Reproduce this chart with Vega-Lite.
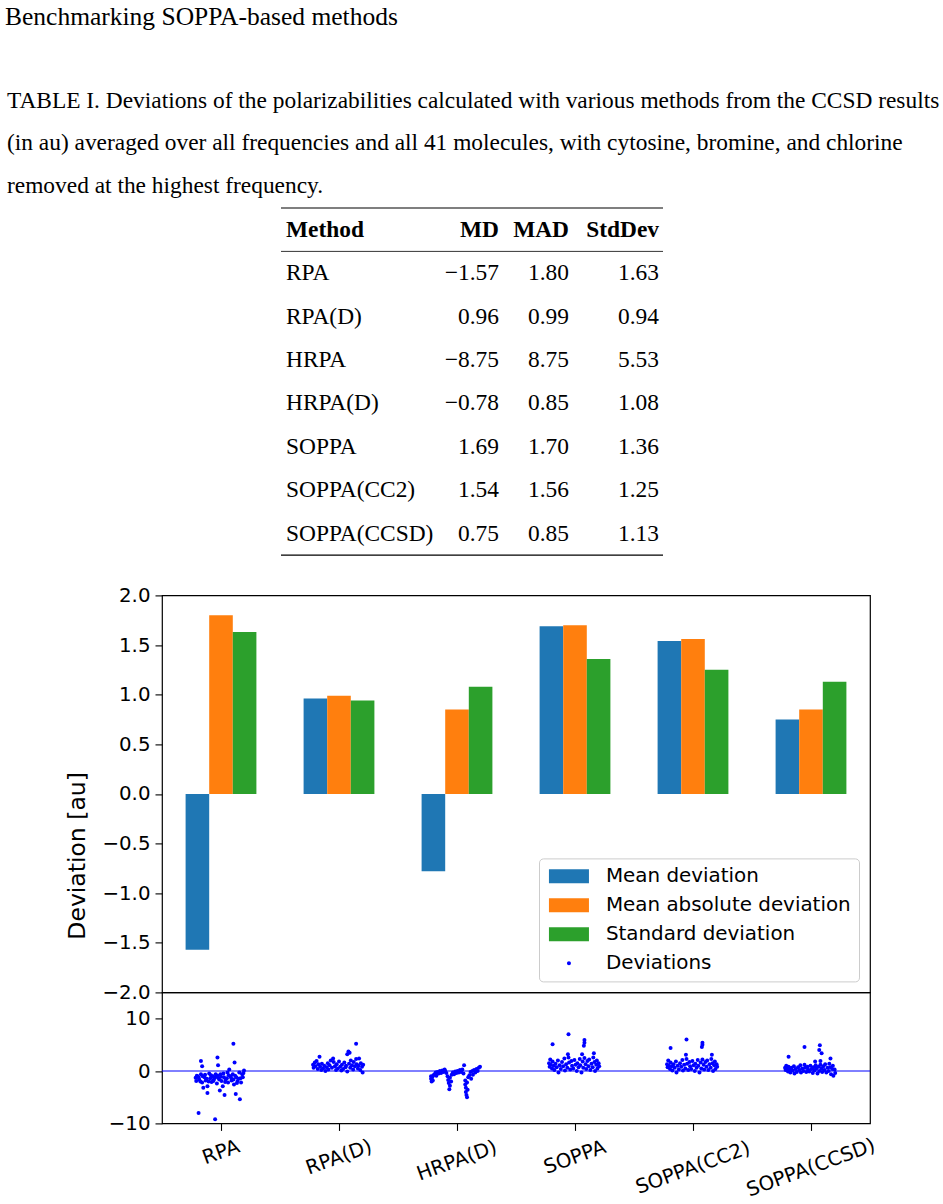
{
  "$schema": "https://vega.github.io/schema/vega-lite/v6.json",
  "padding": {"top": 4, "left": 0, "right": 0, "bottom": 0},
  "background": "white",
  "config": {
    "view": {"stroke": null},
    "font": "DejaVu Sans",
    "axis": {"labelFont": "DejaVu Sans", "labelFontSize": 19.8, "labelColor": "black", "tickColor": "black", "tickWidth": 1.1, "tickSize": 7, "labelPadding": 5, "titleFont": "DejaVu Sans", "titleFontWeight": "normal", "titleColor": "black", "grid": false, "domain": false}
  },
  "title": {"text": "Benchmarking SOPPA-based methods", "anchor": "start", "frame": "group", "font": "Liberation Serif", "fontSize": 25.5, "fontWeight": "normal", "color": "black", "offset": 50, "dx": 5},
  "datasets": {
    "caption": [
      {"row": "c1", "text": "TABLE I. Deviations of the polarizabilities calculated with various methods from the CCSD results"},
      {"row": "c2", "text": "(in au) averaged over all frequencies and all 41 molecules, with cytosine, bromine, and chlorine"},
      {"row": "c3", "text": "removed at the highest frequency."}
    ],
    "header": [{"row": "th", "Method": "Method", "MD": "MD", "MAD": "MAD", "StdDev": "StdDev"}],
    "table": [
      {"Method": "RPA", "MD": -1.57, "MAD": 1.80, "StdDev": 1.63},
      {"Method": "RPA(D)", "MD": 0.96, "MAD": 0.99, "StdDev": 0.94},
      {"Method": "HRPA", "MD": -8.75, "MAD": 8.75, "StdDev": 5.53},
      {"Method": "HRPA(D)", "MD": -0.78, "MAD": 0.85, "StdDev": 1.08},
      {"Method": "SOPPA", "MD": 1.69, "MAD": 1.70, "StdDev": 1.36},
      {"Method": "SOPPA(CC2)", "MD": 1.54, "MAD": 1.56, "StdDev": 1.25},
      {"Method": "SOPPA(CCSD)", "MD": 0.75, "MAD": 0.85, "StdDev": 1.13}
    ],
    "bars": [
      {"m": "RPA", "s": "Mean deviation", "v": -1.57}, {"m": "RPA", "s": "Mean absolute deviation", "v": 1.80}, {"m": "RPA", "s": "Standard deviation", "v": 1.63},
      {"m": "RPA(D)", "s": "Mean deviation", "v": 0.96}, {"m": "RPA(D)", "s": "Mean absolute deviation", "v": 0.99}, {"m": "RPA(D)", "s": "Standard deviation", "v": 0.94},
      {"m": "HRPA(D)", "s": "Mean deviation", "v": -0.78}, {"m": "HRPA(D)", "s": "Mean absolute deviation", "v": 0.85}, {"m": "HRPA(D)", "s": "Standard deviation", "v": 1.08},
      {"m": "SOPPA", "s": "Mean deviation", "v": 1.69}, {"m": "SOPPA", "s": "Mean absolute deviation", "v": 1.70}, {"m": "SOPPA", "s": "Standard deviation", "v": 1.36},
      {"m": "SOPPA(CC2)", "s": "Mean deviation", "v": 1.54}, {"m": "SOPPA(CC2)", "s": "Mean absolute deviation", "v": 1.56}, {"m": "SOPPA(CC2)", "s": "Standard deviation", "v": 1.25},
      {"m": "SOPPA(CCSD)", "s": "Mean deviation", "v": 0.75}, {"m": "SOPPA(CCSD)", "s": "Mean absolute deviation", "v": 0.85}, {"m": "SOPPA(CCSD)", "s": "Standard deviation", "v": 1.13}
    ],
    "pts": [
      {"m":"RPA","j":-0.43,"v":-1.3},{"m":"RPA","j":-0.42,"v":-1.9},{"m":"RPA","j":-0.40,"v":-1.0},{"m":"RPA","j":-0.37,"v":-1.6},{"m":"RPA","j":-0.34,"v":-0.6},{"m":"RPA","j":-0.32,"v":-2.2},{"m":"RPA","j":-0.30,"v":-3.2},{"m":"RPA","j":-0.28,"v":-1.2},{"m":"RPA","j":-0.26,"v":-1.8},{"m":"RPA","j":-0.23,"v":-4.2},{"m":"RPA","j":-0.23,"v":-2.9},{"m":"RPA","j":-0.20,"v":-0.5},{"m":"RPA","j":-0.18,"v":-1.4},{"m":"RPA","j":-0.16,"v":-2.1},{"m":"RPA","j":-0.14,"v":-1.0},{"m":"RPA","j":-0.12,"v":-1.6},{"m":"RPA","j":-0.09,"v":-0.6},{"m":"RPA","j":-0.07,"v":-2.4},{"m":"RPA","j":-0.05,"v":-1.3},{"m":"RPA","j":-0.02,"v":-3.7},{"m":"RPA","j":-0.01,"v":-0.6},{"m":"RPA","j":0.01,"v":-1.9},{"m":"RPA","j":0.03,"v":-2.9},{"m":"RPA","j":0.05,"v":-1.2},{"m":"RPA","j":0.06,"v":-4.6},{"m":"RPA","j":0.08,"v":-1.6},{"m":"RPA","j":0.11,"v":-0.3},{"m":"RPA","j":0.12,"v":-2.2},{"m":"RPA","j":0.14,"v":0.3},{"m":"RPA","j":0.16,"v":-1.0},{"m":"RPA","j":0.18,"v":-1.8},{"m":"RPA","j":0.20,"v":-0.6},{"m":"RPA","j":0.22,"v":-2.6},{"m":"RPA","j":0.25,"v":-4.4},{"m":"RPA","j":0.26,"v":-1.2},{"m":"RPA","j":0.28,"v":-1.9},{"m":"RPA","j":0.31,"v":-0.3},{"m":"RPA","j":0.32,"v":-5.4},{"m":"RPA","j":0.33,"v":-1.4},{"m":"RPA","j":0.36,"v":-0.6},{"m":"RPA","j":0.39,"v":0.1},
      {"m":"RPA","j":-0.41,"v":-0.9},{"m":"RPA","j":-0.38,"v":-1.2},{"m":"RPA","j":-0.35,"v":-2.0},{"m":"RPA","j":-0.31,"v":-1.0},{"m":"RPA","j":-0.27,"v":-0.7},{"m":"RPA","j":-0.24,"v":-1.5},{"m":"RPA","j":-0.21,"v":-2.0},{"m":"RPA","j":-0.17,"v":-0.8},{"m":"RPA","j":-0.13,"v":-1.9},{"m":"RPA","j":-0.10,"v":-1.2},{"m":"RPA","j":-0.06,"v":-0.9},{"m":"RPA","j":-0.03,"v":-1.6},{"m":"RPA","j":0.00,"v":-1.1},{"m":"RPA","j":0.04,"v":-0.5},{"m":"RPA","j":0.07,"v":-2.1},{"m":"RPA","j":0.10,"v":-1.4},{"m":"RPA","j":0.13,"v":-0.8},{"m":"RPA","j":0.17,"v":-1.3},{"m":"RPA","j":0.21,"v":-1.6},{"m":"RPA","j":0.24,"v":-0.9},{"m":"RPA","j":0.27,"v":-2.3},{"m":"RPA","j":0.30,"v":-1.5},{"m":"RPA","j":0.34,"v":-2.2},{"m":"RPA","j":0.37,"v":-1.2},{"m":"RPA","j":0.38,"v":-0.4},
      {"m":"RPA","j":0.21,"v":5.2},{"m":"RPA","j":-0.06,"v":2.6},{"m":"RPA","j":-0.34,"v":1.9},{"m":"RPA","j":-0.32,"v":0.9},{"m":"RPA","j":-0.05,"v":1.1},{"m":"RPA","j":0.23,"v":1.6},{"m":"RPA","j":-0.38,"v":-8.0},{"m":"RPA","j":-0.10,"v":-9.2},
      {"m":"RPA(D)","j":-0.44,"v":1.2},{"m":"RPA(D)","j":-0.43,"v":0.6},{"m":"RPA(D)","j":-0.41,"v":1.6},{"m":"RPA(D)","j":-0.40,"v":0.9},{"m":"RPA(D)","j":-0.38,"v":1.9},{"m":"RPA(D)","j":-0.36,"v":0.4},{"m":"RPA(D)","j":-0.35,"v":1.3},{"m":"RPA(D)","j":-0.33,"v":2.7},{"m":"RPA(D)","j":-0.32,"v":0.8},{"m":"RPA(D)","j":-0.30,"v":0.2},{"m":"RPA(D)","j":-0.29,"v":1.4},{"m":"RPA(D)","j":-0.27,"v":0.5},{"m":"RPA(D)","j":-0.25,"v":1.0},{"m":"RPA(D)","j":-0.23,"v":0.0},{"m":"RPA(D)","j":-0.21,"v":0.7},{"m":"RPA(D)","j":-0.19,"v":1.5},{"m":"RPA(D)","j":-0.18,"v":0.3},{"m":"RPA(D)","j":-0.16,"v":1.1},{"m":"RPA(D)","j":-0.14,"v":2.0},{"m":"RPA(D)","j":-0.12,"v":0.6},{"m":"RPA(D)","j":-0.10,"v":2.4},{"m":"RPA(D)","j":-0.09,"v":1.7},{"m":"RPA(D)","j":-0.07,"v":0.9},{"m":"RPA(D)","j":-0.05,"v":0.2},{"m":"RPA(D)","j":-0.04,"v":1.3},{"m":"RPA(D)","j":-0.02,"v":0.5},{"m":"RPA(D)","j":0.00,"v":1.8},{"m":"RPA(D)","j":0.02,"v":0.8},{"m":"RPA(D)","j":0.04,"v":0.1},{"m":"RPA(D)","j":0.05,"v":1.2},{"m":"RPA(D)","j":0.07,"v":0.4},{"m":"RPA(D)","j":0.09,"v":1.6},{"m":"RPA(D)","j":0.11,"v":0.7},{"m":"RPA(D)","j":0.12,"v":1.0},{"m":"RPA(D)","j":0.14,"v":-0.1},{"m":"RPA(D)","j":0.14,"v":3.2},{"m":"RPA(D)","j":0.16,"v":3.7},{"m":"RPA(D)","j":0.17,"v":1.4},{"m":"RPA(D)","j":0.18,"v":3.5},{"m":"RPA(D)","j":0.19,"v":0.6},{"m":"RPA(D)","j":0.20,"v":2.0},{"m":"RPA(D)","j":0.22,"v":1.1},{"m":"RPA(D)","j":0.24,"v":0.3},{"m":"RPA(D)","j":0.25,"v":1.7},{"m":"RPA(D)","j":0.27,"v":0.9},{"m":"RPA(D)","j":0.29,"v":2.3},{"m":"RPA(D)","j":0.30,"v":1.3},{"m":"RPA(D)","j":0.29,"v":5.2},{"m":"RPA(D)","j":0.32,"v":0.5},{"m":"RPA(D)","j":0.33,"v":1.0},{"m":"RPA(D)","j":0.34,"v":2.4},{"m":"RPA(D)","j":0.36,"v":0.2},{"m":"RPA(D)","j":0.37,"v":1.5},{"m":"RPA(D)","j":0.39,"v":0.8},{"m":"RPA(D)","j":0.40,"v":-0.3},{"m":"RPA(D)","j":0.41,"v":1.2},
      {"m":"HRPA(D)","j":-0.44,"v":-1.0},{"m":"HRPA(D)","j":-0.44,"v":-1.5},{"m":"HRPA(D)","j":-0.43,"v":-2.0},{"m":"HRPA(D)","j":-0.42,"v":-1.2},{"m":"HRPA(D)","j":-0.41,"v":-1.8},{"m":"HRPA(D)","j":-0.40,"v":-0.8},{"m":"HRPA(D)","j":-0.38,"v":-0.6},{"m":"HRPA(D)","j":-0.36,"v":-0.3},{"m":"HRPA(D)","j":-0.35,"v":-0.9},{"m":"HRPA(D)","j":-0.33,"v":-0.2},{"m":"HRPA(D)","j":-0.31,"v":-0.5},{"m":"HRPA(D)","j":-0.29,"v":0.0},{"m":"HRPA(D)","j":-0.27,"v":-0.4},{"m":"HRPA(D)","j":-0.25,"v":0.1},{"m":"HRPA(D)","j":-0.23,"v":-0.2},{"m":"HRPA(D)","j":-0.21,"v":0.3},{"m":"HRPA(D)","j":-0.20,"v":0.0},{"m":"HRPA(D)","j":-0.18,"v":-0.4},{"m":"HRPA(D)","j":-0.16,"v":-1.0},{"m":"HRPA(D)","j":-0.15,"v":-1.7},{"m":"HRPA(D)","j":-0.14,"v":-2.3},{"m":"HRPA(D)","j":-0.13,"v":-3.5},{"m":"HRPA(D)","j":-0.12,"v":-2.8},{"m":"HRPA(D)","j":-0.12,"v":-1.3},{"m":"HRPA(D)","j":-0.10,"v":-2.0},{"m":"HRPA(D)","j":-0.09,"v":-0.7},{"m":"HRPA(D)","j":-0.07,"v":-0.3},{"m":"HRPA(D)","j":-0.05,"v":-0.6},{"m":"HRPA(D)","j":-0.03,"v":-0.1},{"m":"HRPA(D)","j":-0.01,"v":-0.4},{"m":"HRPA(D)","j":0.01,"v":0.0},{"m":"HRPA(D)","j":0.03,"v":-0.3},{"m":"HRPA(D)","j":0.05,"v":0.2},{"m":"HRPA(D)","j":0.07,"v":-0.2},{"m":"HRPA(D)","j":0.09,"v":0.3},{"m":"HRPA(D)","j":0.11,"v":-0.5},{"m":"HRPA(D)","j":0.12,"v":1.1},{"m":"HRPA(D)","j":0.14,"v":-1.8},{"m":"HRPA(D)","j":0.14,"v":-2.6},{"m":"HRPA(D)","j":0.15,"v":-3.2},{"m":"HRPA(D)","j":0.15,"v":-4.0},{"m":"HRPA(D)","j":0.16,"v":-4.6},{"m":"HRPA(D)","j":0.17,"v":-5.0},{"m":"HRPA(D)","j":0.17,"v":-2.2},{"m":"HRPA(D)","j":0.18,"v":-3.6},{"m":"HRPA(D)","j":0.19,"v":-1.2},{"m":"HRPA(D)","j":0.21,"v":-0.8},{"m":"HRPA(D)","j":0.23,"v":-0.2},{"m":"HRPA(D)","j":0.24,"v":-1.5},{"m":"HRPA(D)","j":0.26,"v":0.0},{"m":"HRPA(D)","j":0.27,"v":-0.7},{"m":"HRPA(D)","j":0.29,"v":0.2},{"m":"HRPA(D)","j":0.31,"v":-0.3},{"m":"HRPA(D)","j":0.33,"v":0.4},{"m":"HRPA(D)","j":0.35,"v":0.0},{"m":"HRPA(D)","j":0.37,"v":0.6},{"m":"HRPA(D)","j":0.39,"v":0.8},
      {"m":"SOPPA","j":-0.44,"v":1.5},{"m":"SOPPA","j":-0.43,"v":0.8},{"m":"SOPPA","j":-0.42,"v":2.2},{"m":"SOPPA","j":-0.41,"v":1.2},{"m":"SOPPA","j":-0.39,"v":0.5},{"m":"SOPPA","j":-0.38,"v":1.8},{"m":"SOPPA","j":-0.36,"v":1.0},{"m":"SOPPA","j":-0.35,"v":0.2},{"m":"SOPPA","j":-0.33,"v":1.4},{"m":"SOPPA","j":-0.31,"v":0.7},{"m":"SOPPA","j":-0.29,"v":2.0},{"m":"SOPPA","j":-0.28,"v":-0.3},{"m":"SOPPA","j":-0.26,"v":1.1},{"m":"SOPPA","j":-0.24,"v":0.4},{"m":"SOPPA","j":-0.22,"v":1.7},{"m":"SOPPA","j":-0.20,"v":0.9},{"m":"SOPPA","j":-0.18,"v":2.4},{"m":"SOPPA","j":-0.17,"v":0.1},{"m":"SOPPA","j":-0.15,"v":1.3},{"m":"SOPPA","j":-0.13,"v":0.6},{"m":"SOPPA","j":-0.11,"v":2.6},{"m":"SOPPA","j":-0.10,"v":1.6},{"m":"SOPPA","j":-0.08,"v":0.3},{"m":"SOPPA","j":-0.06,"v":1.9},{"m":"SOPPA","j":-0.05,"v":1.0},{"m":"SOPPA","j":-0.03,"v":0.5},{"m":"SOPPA","j":-0.01,"v":2.1},{"m":"SOPPA","j":0.01,"v":1.2},{"m":"SOPPA","j":0.03,"v":0.0},{"m":"SOPPA","j":0.04,"v":1.5},{"m":"SOPPA","j":0.06,"v":0.7},{"m":"SOPPA","j":0.08,"v":2.3},{"m":"SOPPA","j":0.09,"v":1.1},{"m":"SOPPA","j":0.11,"v":-0.3},{"m":"SOPPA","j":0.13,"v":1.8},{"m":"SOPPA","j":0.14,"v":0.6},{"m":"SOPPA","j":0.16,"v":2.5},{"m":"SOPPA","j":0.18,"v":1.3},{"m":"SOPPA","j":0.19,"v":0.4},{"m":"SOPPA","j":0.21,"v":1.9},{"m":"SOPPA","j":0.23,"v":0.9},{"m":"SOPPA","j":0.24,"v":2.2},{"m":"SOPPA","j":0.26,"v":0.2},{"m":"SOPPA","j":0.28,"v":1.4},{"m":"SOPPA","j":0.30,"v":0.7},{"m":"SOPPA","j":0.31,"v":2.6},{"m":"SOPPA","j":0.33,"v":1.7},{"m":"SOPPA","j":0.34,"v":0.0},{"m":"SOPPA","j":0.36,"v":1.2},{"m":"SOPPA","j":0.37,"v":2.0},{"m":"SOPPA","j":0.38,"v":0.5},{"m":"SOPPA","j":0.40,"v":1.5},{"m":"SOPPA","j":0.41,"v":0.9},
      {"m":"SOPPA","j":-0.11,"v":7.0},{"m":"SOPPA","j":-0.38,"v":5.1},{"m":"SOPPA","j":0.16,"v":5.9},{"m":"SOPPA","j":0.16,"v":5.4},{"m":"SOPPA","j":0.15,"v":4.8},{"m":"SOPPA","j":-0.12,"v":3.2},{"m":"SOPPA","j":0.32,"v":3.4},{"m":"SOPPA","j":0.12,"v":3.2},
      {"m":"SOPPA(CC2)","j":-0.44,"v":1.3},{"m":"SOPPA(CC2)","j":-0.43,"v":0.7},{"m":"SOPPA(CC2)","j":-0.42,"v":2.0},{"m":"SOPPA(CC2)","j":-0.41,"v":1.0},{"m":"SOPPA(CC2)","j":-0.39,"v":0.4},{"m":"SOPPA(CC2)","j":-0.38,"v":1.6},{"m":"SOPPA(CC2)","j":-0.36,"v":0.9},{"m":"SOPPA(CC2)","j":-0.35,"v":0.1},{"m":"SOPPA(CC2)","j":-0.33,"v":1.3},{"m":"SOPPA(CC2)","j":-0.31,"v":0.6},{"m":"SOPPA(CC2)","j":-0.29,"v":1.8},{"m":"SOPPA(CC2)","j":-0.28,"v":-0.3},{"m":"SOPPA(CC2)","j":-0.26,"v":1.0},{"m":"SOPPA(CC2)","j":-0.24,"v":0.3},{"m":"SOPPA(CC2)","j":-0.22,"v":1.5},{"m":"SOPPA(CC2)","j":-0.20,"v":0.8},{"m":"SOPPA(CC2)","j":-0.18,"v":2.1},{"m":"SOPPA(CC2)","j":-0.17,"v":0.1},{"m":"SOPPA(CC2)","j":-0.15,"v":1.2},{"m":"SOPPA(CC2)","j":-0.13,"v":0.5},{"m":"SOPPA(CC2)","j":-0.11,"v":2.3},{"m":"SOPPA(CC2)","j":-0.10,"v":1.4},{"m":"SOPPA(CC2)","j":-0.08,"v":0.2},{"m":"SOPPA(CC2)","j":-0.06,"v":1.7},{"m":"SOPPA(CC2)","j":-0.05,"v":0.9},{"m":"SOPPA(CC2)","j":-0.03,"v":0.4},{"m":"SOPPA(CC2)","j":-0.01,"v":1.9},{"m":"SOPPA(CC2)","j":0.01,"v":1.1},{"m":"SOPPA(CC2)","j":0.03,"v":0.0},{"m":"SOPPA(CC2)","j":0.04,"v":1.4},{"m":"SOPPA(CC2)","j":0.06,"v":0.6},{"m":"SOPPA(CC2)","j":0.08,"v":2.1},{"m":"SOPPA(CC2)","j":0.09,"v":1.0},{"m":"SOPPA(CC2)","j":0.11,"v":-0.3},{"m":"SOPPA(CC2)","j":0.13,"v":1.6},{"m":"SOPPA(CC2)","j":0.14,"v":0.5},{"m":"SOPPA(CC2)","j":0.16,"v":2.2},{"m":"SOPPA(CC2)","j":0.18,"v":1.2},{"m":"SOPPA(CC2)","j":0.19,"v":0.3},{"m":"SOPPA(CC2)","j":0.21,"v":1.7},{"m":"SOPPA(CC2)","j":0.23,"v":0.8},{"m":"SOPPA(CC2)","j":0.24,"v":2.0},{"m":"SOPPA(CC2)","j":0.26,"v":0.2},{"m":"SOPPA(CC2)","j":0.28,"v":1.3},{"m":"SOPPA(CC2)","j":0.30,"v":0.6},{"m":"SOPPA(CC2)","j":0.31,"v":2.3},{"m":"SOPPA(CC2)","j":0.33,"v":1.5},{"m":"SOPPA(CC2)","j":0.34,"v":0.0},{"m":"SOPPA(CC2)","j":0.36,"v":1.1},{"m":"SOPPA(CC2)","j":0.37,"v":1.8},{"m":"SOPPA(CC2)","j":0.38,"v":0.4},{"m":"SOPPA(CC2)","j":0.40,"v":1.3},{"m":"SOPPA(CC2)","j":0.41,"v":0.8},
      {"m":"SOPPA(CC2)","j":-0.11,"v":6.0},{"m":"SOPPA(CC2)","j":-0.38,"v":4.4},{"m":"SOPPA(CC2)","j":0.16,"v":5.4},{"m":"SOPPA(CC2)","j":0.16,"v":5.0},{"m":"SOPPA(CC2)","j":0.15,"v":4.6},{"m":"SOPPA(CC2)","j":-0.12,"v":3.1},{"m":"SOPPA(CC2)","j":0.32,"v":3.1},
      {"m":"SOPPA(CCSD)","j":-0.44,"v":0.6},{"m":"SOPPA(CCSD)","j":-0.43,"v":0.2},{"m":"SOPPA(CCSD)","j":-0.42,"v":1.0},{"m":"SOPPA(CCSD)","j":-0.41,"v":0.4},{"m":"SOPPA(CCSD)","j":-0.39,"v":-0.1},{"m":"SOPPA(CCSD)","j":-0.38,"v":0.8},{"m":"SOPPA(CCSD)","j":-0.36,"v":0.3},{"m":"SOPPA(CCSD)","j":-0.35,"v":-0.3},{"m":"SOPPA(CCSD)","j":-0.33,"v":0.6},{"m":"SOPPA(CCSD)","j":-0.31,"v":0.1},{"m":"SOPPA(CCSD)","j":-0.29,"v":0.9},{"m":"SOPPA(CCSD)","j":-0.28,"v":-0.5},{"m":"SOPPA(CCSD)","j":-0.26,"v":0.4},{"m":"SOPPA(CCSD)","j":-0.24,"v":-0.2},{"m":"SOPPA(CCSD)","j":-0.22,"v":0.7},{"m":"SOPPA(CCSD)","j":-0.20,"v":0.2},{"m":"SOPPA(CCSD)","j":-0.18,"v":1.1},{"m":"SOPPA(CCSD)","j":-0.17,"v":-0.3},{"m":"SOPPA(CCSD)","j":-0.15,"v":0.5},{"m":"SOPPA(CCSD)","j":-0.13,"v":0.0},{"m":"SOPPA(CCSD)","j":-0.11,"v":1.2},{"m":"SOPPA(CCSD)","j":-0.10,"v":0.6},{"m":"SOPPA(CCSD)","j":-0.08,"v":-0.2},{"m":"SOPPA(CCSD)","j":-0.06,"v":0.8},{"m":"SOPPA(CCSD)","j":-0.05,"v":0.3},{"m":"SOPPA(CCSD)","j":-0.03,"v":-0.1},{"m":"SOPPA(CCSD)","j":-0.01,"v":1.0},{"m":"SOPPA(CCSD)","j":0.01,"v":0.4},{"m":"SOPPA(CCSD)","j":0.03,"v":-0.4},{"m":"SOPPA(CCSD)","j":0.04,"v":0.7},{"m":"SOPPA(CCSD)","j":0.06,"v":0.1},{"m":"SOPPA(CCSD)","j":0.08,"v":1.1},{"m":"SOPPA(CCSD)","j":0.09,"v":0.5},{"m":"SOPPA(CCSD)","j":0.11,"v":-0.5},{"m":"SOPPA(CCSD)","j":0.13,"v":0.8},{"m":"SOPPA(CCSD)","j":0.14,"v":0.0},{"m":"SOPPA(CCSD)","j":0.16,"v":1.2},{"m":"SOPPA(CCSD)","j":0.18,"v":0.5},{"m":"SOPPA(CCSD)","j":0.19,"v":-0.2},{"m":"SOPPA(CCSD)","j":0.21,"v":0.9},{"m":"SOPPA(CCSD)","j":0.23,"v":0.2},{"m":"SOPPA(CCSD)","j":0.24,"v":1.3},{"m":"SOPPA(CCSD)","j":0.26,"v":-0.3},{"m":"SOPPA(CCSD)","j":0.28,"v":0.6},{"m":"SOPPA(CCSD)","j":0.30,"v":0.0},{"m":"SOPPA(CCSD)","j":0.31,"v":1.4},{"m":"SOPPA(CCSD)","j":0.33,"v":0.7},{"m":"SOPPA(CCSD)","j":0.34,"v":-0.6},{"m":"SOPPA(CCSD)","j":0.36,"v":0.4},{"m":"SOPPA(CCSD)","j":0.37,"v":1.0},{"m":"SOPPA(CCSD)","j":0.38,"v":-0.9},{"m":"SOPPA(CCSD)","j":0.40,"v":0.3},{"m":"SOPPA(CCSD)","j":0.41,"v":-0.4},
      {"m":"SOPPA(CCSD)","j":-0.11,"v":4.6},{"m":"SOPPA(CCSD)","j":0.15,"v":4.9},{"m":"SOPPA(CCSD)","j":0.14,"v":4.0},{"m":"SOPPA(CCSD)","j":0.18,"v":3.4},{"m":"SOPPA(CCSD)","j":-0.38,"v":2.7},{"m":"SOPPA(CCSD)","j":0.33,"v":2.4},{"m":"SOPPA(CCSD)","j":0.07,"v":1.8},{"m":"SOPPA(CCSD)","j":0.16,"v":1.9}
    ]
  },
  "spacing": 28.4,
  "resolve": {"scale": {"color": "independent", "shape": "independent"}, "legend": {"color": "independent", "shape": "independent"}},
  "vconcat": [
    {
      "spacing": 0,
      "vconcat": [
        {
          "width": 943, "height": 126.6,
          "data": {"name": "caption"},
          "mark": {"type": "text", "align": "left", "baseline": "middle", "dx": 7, "font": "Liberation Serif", "fontSize": 23.4, "color": "black"},
          "encoding": {
            "x": {"datum": 0, "type": "quantitative", "scale": {"domain": [0, 1]}, "axis": null},
            "y": {"field": "row", "type": "nominal", "scale": {"type": "band", "domain": ["c1", "c2", "c3"], "paddingInner": 0, "paddingOuter": 0}, "axis": null},
            "text": {"field": "text"}
          }
        },
        {
          "spacing": 0,
          "bounds": "flush",
          "hconcat": [
            {"width": 281, "height": 10, "data": {"values": []}, "mark": {"type": "point", "opacity": 0}},
            {
              "width": 159, "height": 347.2,
              "layer": [
                {"data": {"name": "header"}, "mark": {"type": "text", "align": "left", "baseline": "middle", "dx": 5, "font": "Liberation Serif", "fontSize": 23.4, "fontWeight": "bold", "color": "black"},
                 "encoding": {"x": {"datum": 0, "type": "quantitative", "scale": {"domain": [0, 1]}, "axis": null}, "y": {"field": "row", "type": "nominal", "scale": {"type": "band", "domain": ["th", "RPA", "RPA(D)", "HRPA", "HRPA(D)", "SOPPA", "SOPPA(CC2)", "SOPPA(CCSD)"], "paddingInner": 0, "paddingOuter": 0}, "axis": null}, "text": {"field": "Method"}}},
                {"data": {"name": "table"}, "mark": {"type": "text", "align": "left", "baseline": "middle", "dx": 5, "font": "Liberation Serif", "fontSize": 23.4, "color": "black"},
                 "encoding": {"x": {"datum": 0, "type": "quantitative"}, "y": {"field": "Method", "type": "nominal"}, "text": {"field": "Method"}}},
                {"data": {"name": "header"}, "mark": {"type": "rule", "color": "black", "strokeWidth": 1.2}, "encoding": {"y": {"field": "row", "type": "nominal", "bandPosition": 0}}},
                {"data": {"name": "header"}, "mark": {"type": "rule", "color": "black", "strokeWidth": 0.8}, "encoding": {"y": {"field": "row", "type": "nominal", "bandPosition": 1}}},
                {"data": {"name": "table"}, "transform": [{"filter": "datum.Method == 'SOPPA(CCSD)'"}], "mark": {"type": "rule", "color": "black", "strokeWidth": 1.2}, "encoding": {"y": {"field": "Method", "type": "nominal", "bandPosition": 1}}}
              ]
            },
            {
              "width": 64, "height": 347.2,
              "layer": [
                {"data": {"name": "header"}, "mark": {"type": "text", "align": "right", "baseline": "middle", "dx": -5, "font": "Liberation Serif", "fontSize": 23.4, "fontWeight": "bold", "color": "black"},
                 "encoding": {"x": {"datum": 1, "type": "quantitative", "scale": {"domain": [0, 1]}, "axis": null}, "y": {"field": "row", "type": "nominal", "scale": {"type": "band", "domain": ["th", "RPA", "RPA(D)", "HRPA", "HRPA(D)", "SOPPA", "SOPPA(CC2)", "SOPPA(CCSD)"], "paddingInner": 0, "paddingOuter": 0}, "axis": null}, "text": {"field": "MD"}}},
                {"data": {"name": "table"}, "mark": {"type": "text", "align": "right", "baseline": "middle", "dx": -5, "font": "Liberation Serif", "fontSize": 23.4, "color": "black"},
                 "encoding": {"x": {"datum": 1, "type": "quantitative"}, "y": {"field": "Method", "type": "nominal"}, "text": {"field": "MD", "type": "quantitative", "format": ".2f"}}},
                {"data": {"name": "header"}, "mark": {"type": "rule", "color": "black", "strokeWidth": 1.2}, "encoding": {"y": {"field": "row", "type": "nominal", "bandPosition": 0}}},
                {"data": {"name": "header"}, "mark": {"type": "rule", "color": "black", "strokeWidth": 0.8}, "encoding": {"y": {"field": "row", "type": "nominal", "bandPosition": 1}}},
                {"data": {"name": "table"}, "transform": [{"filter": "datum.Method == 'SOPPA(CCSD)'"}], "mark": {"type": "rule", "color": "black", "strokeWidth": 1.2}, "encoding": {"y": {"field": "Method", "type": "nominal", "bandPosition": 1}}}
              ]
            },
            {
              "width": 70, "height": 347.2,
              "layer": [
                {"data": {"name": "header"}, "mark": {"type": "text", "align": "right", "baseline": "middle", "dx": -5, "font": "Liberation Serif", "fontSize": 23.4, "fontWeight": "bold", "color": "black"},
                 "encoding": {"x": {"datum": 1, "type": "quantitative", "scale": {"domain": [0, 1]}, "axis": null}, "y": {"field": "row", "type": "nominal", "scale": {"type": "band", "domain": ["th", "RPA", "RPA(D)", "HRPA", "HRPA(D)", "SOPPA", "SOPPA(CC2)", "SOPPA(CCSD)"], "paddingInner": 0, "paddingOuter": 0}, "axis": null}, "text": {"field": "MAD"}}},
                {"data": {"name": "table"}, "mark": {"type": "text", "align": "right", "baseline": "middle", "dx": -5, "font": "Liberation Serif", "fontSize": 23.4, "color": "black"},
                 "encoding": {"x": {"datum": 1, "type": "quantitative"}, "y": {"field": "Method", "type": "nominal"}, "text": {"field": "MAD", "type": "quantitative", "format": ".2f"}}},
                {"data": {"name": "header"}, "mark": {"type": "rule", "color": "black", "strokeWidth": 1.2}, "encoding": {"y": {"field": "row", "type": "nominal", "bandPosition": 0}}},
                {"data": {"name": "header"}, "mark": {"type": "rule", "color": "black", "strokeWidth": 0.8}, "encoding": {"y": {"field": "row", "type": "nominal", "bandPosition": 1}}},
                {"data": {"name": "table"}, "transform": [{"filter": "datum.Method == 'SOPPA(CCSD)'"}], "mark": {"type": "rule", "color": "black", "strokeWidth": 1.2}, "encoding": {"y": {"field": "Method", "type": "nominal", "bandPosition": 1}}}
              ]
            },
            {
              "width": 89, "height": 347.2,
              "layer": [
                {"data": {"name": "header"}, "mark": {"type": "text", "align": "right", "baseline": "middle", "dx": -4, "font": "Liberation Serif", "fontSize": 23.4, "fontWeight": "bold", "color": "black"},
                 "encoding": {"x": {"datum": 1, "type": "quantitative", "scale": {"domain": [0, 1]}, "axis": null}, "y": {"field": "row", "type": "nominal", "scale": {"type": "band", "domain": ["th", "RPA", "RPA(D)", "HRPA", "HRPA(D)", "SOPPA", "SOPPA(CC2)", "SOPPA(CCSD)"], "paddingInner": 0, "paddingOuter": 0}, "axis": null}, "text": {"field": "StdDev"}}},
                {"data": {"name": "table"}, "mark": {"type": "text", "align": "right", "baseline": "middle", "dx": -4, "font": "Liberation Serif", "fontSize": 23.4, "color": "black"},
                 "encoding": {"x": {"datum": 1, "type": "quantitative"}, "y": {"field": "Method", "type": "nominal"}, "text": {"field": "StdDev", "type": "quantitative", "format": ".2f"}}},
                {"data": {"name": "header"}, "mark": {"type": "rule", "color": "black", "strokeWidth": 1.2}, "encoding": {"y": {"field": "row", "type": "nominal", "bandPosition": 0}}},
                {"data": {"name": "header"}, "mark": {"type": "rule", "color": "black", "strokeWidth": 0.8}, "encoding": {"y": {"field": "row", "type": "nominal", "bandPosition": 1}}},
                {"data": {"name": "table"}, "transform": [{"filter": "datum.Method == 'SOPPA(CCSD)'"}], "mark": {"type": "rule", "color": "black", "strokeWidth": 1.2}, "encoding": {"y": {"field": "Method", "type": "nominal", "bandPosition": 1}}}
              ]
            }
          ]
        }
      ]
    },
    {
      "spacing": 0,
      "bounds": "flush",
      "resolve": {"scale": {"color": "independent", "shape": "independent"}, "legend": {"color": "independent", "shape": "independent"}},
      "hconcat": [
        {"width": 162, "height": 10, "data": {"values": []}, "mark": {"type": "point", "opacity": 0}},
        {
          "spacing": 0,
          "bounds": "flush",
          "resolve": {"scale": {"color": "independent", "shape": "independent"}, "legend": {"color": "independent", "shape": "independent"}},
          "vconcat": [
            {
              "width": 708, "height": 397,
              "view": {"stroke": "black", "strokeWidth": 1.2},
              "data": {"name": "bars"},
              "layer": [
                {
                  "mark": {"type": "bar"},
                  "encoding": {
                    "x": {"field": "m", "type": "nominal", "sort": ["RPA", "RPA(D)", "HRPA(D)", "SOPPA", "SOPPA(CC2)", "SOPPA(CCSD)"], "scale": {"paddingInner": 0, "paddingOuter": 0}, "axis": null},
                    "xOffset": {"field": "s", "type": "nominal", "sort": ["Mean deviation", "Mean absolute deviation", "Standard deviation"], "scale": {"paddingInner": 0, "paddingOuter": 1}},
                    "y": {"field": "v", "type": "quantitative", "scale": {"domain": [-2, 2], "nice": false, "zero": false},
                          "axis": {"values": [-2, -1.5, -1, -0.5, 0, 0.5, 1, 1.5, 2], "format": ".1f", "title": "Deviation [au]", "titleFontSize": 23.5, "titleX": -85, "titleY": 260, "titleBaseline": "middle", "titleAngle": -90, "titleAlign": "center"}},
                    "color": {"field": "s", "type": "nominal",
                              "scale": {"domain": ["Mean deviation", "Mean absolute deviation", "Standard deviation", "Deviations"], "range": ["#1f77b4", "#ff7f0e", "#2ca02c", "#0000ff"]},
                              "legend": {"orient": "bottom-right", "offset": 11, "title": null, "padding": 8, "rowPadding": 8, "labelOffset": 39, "labelLimit": 400, "labelFontSize": 19.9, "labelFont": "DejaVu Sans", "labelColor": "black", "symbolSize": 256, "symbolStrokeWidth": 0, "symbolOpacity": 1, "fillColor": "rgba(255,255,255,0.8)", "strokeColor": "#cccccc", "cornerRadius": 4}}
                  }
                },
                {
                  "mark": {"type": "point", "filled": true, "opacity": 0},
                  "encoding": {
                    "color": {"field": "s", "type": "nominal"},
                    "shape": {"field": "s", "type": "nominal",
                              "scale": {"domain": ["Mean deviation", "Mean absolute deviation", "Standard deviation", "Deviations"], "range": ["M-1,-0.875H4V0.875H-1Z", "M-1,-0.875H4V0.875H-1Z", "M-1,-0.875H4V0.875H-1Z", "M1.25,0A0.25,0.25,0,1,0,1.75,0A0.25,0.25,0,1,0,1.25,0Z"]},
                              "legend": {"orient": "bottom-right", "offset": 11, "title": null, "padding": 8, "rowPadding": 8, "labelOffset": 39, "labelLimit": 400, "labelFontSize": 19.9, "labelFont": "DejaVu Sans", "labelColor": "black", "symbolSize": 256, "symbolStrokeWidth": 0, "symbolOpacity": 1, "fillColor": "rgba(255,255,255,0.8)", "strokeColor": "#cccccc", "cornerRadius": 4}}
                  }
                }
              ]
            },
            {
              "width": 708, "height": 131,
              "view": {"stroke": "black", "strokeWidth": 1.2},
              "layer": [
                {
                  "data": {"name": "pts"},
                  "mark": {"type": "point", "shape": "circle", "filled": true, "size": 16, "color": "#0000ff", "opacity": 1},
                  "encoding": {
                    "x": {"field": "m", "type": "nominal", "sort": ["RPA", "RPA(D)", "HRPA(D)", "SOPPA", "SOPPA(CC2)", "SOPPA(CCSD)"], "scale": {"type": "band", "paddingInner": 0, "paddingOuter": 0},
                          "axis": {"title": null, "labelAngle": -20, "labelAlign": "center", "labelBaseline": "middle",
                                   "labelPadding": {"condition": [{"test": "datum.label == 'RPA'", "value": 21.5}, {"test": "datum.label == 'RPA(D)' || datum.label == 'SOPPA'", "value": 26.5}, {"test": "datum.label == 'HRPA(D)'", "value": 30}], "value": 37}}},
                    "xOffset": {"field": "j", "type": "quantitative", "scale": {"domain": [-1, 1]}},
                    "y": {"field": "v", "type": "quantitative", "scale": {"domain": [-10, 15], "nice": false, "zero": false},
                          "axis": {"values": [-10, -5, 0, 5, 10], "format": "d", "title": null}}
                  }
                },
                {
                  "data": {"values": [{}]},
                  "mark": {"type": "rule", "color": "#0000ff", "strokeWidth": 1},
                  "encoding": {"y": {"datum": 0}}
                }
              ]
            }
          ]
        }
      ]
    }
  ]
}
